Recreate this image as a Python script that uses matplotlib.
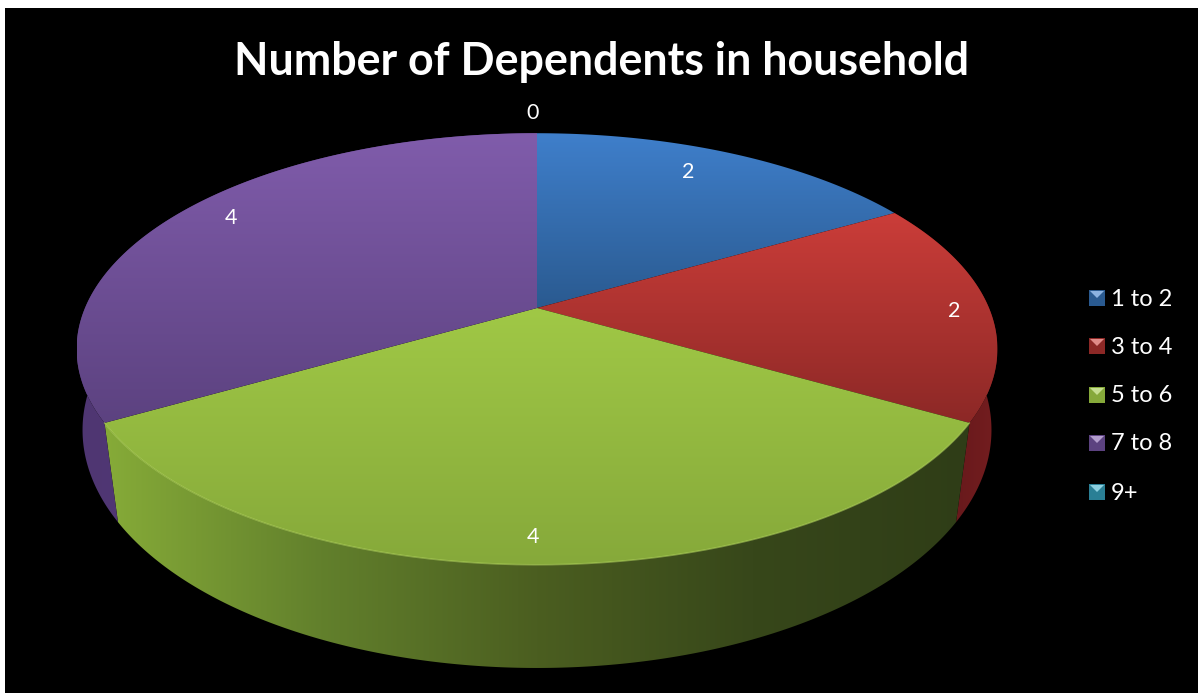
import numpy as np
import matplotlib
matplotlib.use('Agg')
from matplotlib import pyplot as plt
from matplotlib.patches import Polygon, Rectangle

categories = ['1 to 2', '3 to 4', '5 to 6', '7 to 8', '9+']
values = [2, 2, 4, 4, 0]
title = 'Number of Dependents in household'

# top face gradient (far edge, near edge) and side gradient (left to right)
top_colors = [('#3f7fcb', '#2a5a90'), ('#cb3d39', '#8c2826'),
              ('#a0c846', '#86a93a'), ('#805cab', '#5c4280'), ('#3fb0cc', '#2a7f95')]
side_colors = [('#2a5a90', '#2a5a90'), ('#561417', '#741d1f'),
               ('#86ab38', '#62802c', '#4b5e20', '#37471a', '#2f3d17'),
               ('#4f3672', '#5c3f85'), ('#2a7f95', '#2a7f95')]
legend_y = [298, 346, 395, 443, 492]
label_xy = [(688, 172), (954, 311), (533, 537), (231, 218)]
zero_label_xy = (533, 113)

plt.rcParams['font.family'] = ['Lato', 'DejaVu Sans']

fig = plt.figure(figsize=(11.98, 6.93), dpi=100, facecolor='white')
ax = fig.add_axes([0, 0, 1, 1])
ax.set_xlim(0, 1198)
ax.set_ylim(693, 0)
ax.axis('off')
ax.add_patch(Rectangle((5, 8), 1193, 685, fc='black', ec='none', zorder=0))


def top_disc(a):
    # a is the angle in radians clockwise from 12 o'clock, with perspective
    u, v = np.sin(a), np.cos(a)
    w = 1 + 0.19 * v
    return 537 + 452 * u / w, 308 - 208 * v / w


def bottom_disc(a):
    u, v = np.sin(a), np.cos(a)
    w = 1 + 0.14 * v
    return 537 + 450 * u / w, 396.7 - 233.3 * v / w


def hex_rgb(c):
    return np.array(matplotlib.colors.to_rgb(c))


def fill_gradient(poly, stops, vertical, zorder):
    # paint a colour ramp across the bounding box, clipped to the polygon
    patch = Polygon(poly, closed=True, fc='none', ec='none', zorder=zorder)
    ax.add_patch(patch)
    pos = np.linspace(0, 1, 256)
    knots = np.linspace(0, 1, len(stops))
    rgb = np.column_stack([np.interp(pos, knots, [hex_rgb(s)[j] for s in stops]) for j in range(3)])
    img = rgb[:, None, :] if vertical else rgb[None, :, :]
    x0, y0 = poly.min(axis=0)
    x1, y1 = poly.max(axis=0)
    im = ax.imshow(img, extent=(x0, x1, y1, y0), aspect='auto', zorder=zorder,
                   interpolation='bilinear')
    im.set_clip_path(patch)


total = sum(values)
edges = np.cumsum([0] + values) / total * 2 * np.pi

# sides first, back to front, so the green wall sits over its neighbours
for i in [3, 1, 2]:
    a = np.linspace(edges[i], edges[i + 1], 200)
    tx, ty = top_disc(a)
    bx, by = bottom_disc(a)
    wall = np.column_stack([np.r_[tx, bx[::-1]], np.r_[ty, by[::-1]]])
    fill_gradient(wall, side_colors[i], False, 2 + i * 0.1)

for i in range(4):
    a = np.linspace(edges[i], edges[i + 1], 200)
    tx, ty = top_disc(a)
    face = np.column_stack([np.r_[537, tx], np.r_[308, ty]])
    fill_gradient(face, top_colors[i], True, 3 + i * 0.1)

# bevel highlight along the near rim of the green slice
a = np.linspace(edges[2], edges[3], 200)
tx, ty = top_disc(a)
ax.plot(tx, ty, color='#b5d860', lw=1.1, alpha=0.55, zorder=4, solid_capstyle='round')

ax.text(602, 62, title, color='white', fontsize=32.2, fontweight='bold',
        ha='center', va='center', zorder=6)

shown = [v for v in values if v > 0]
for (x, y), v in zip(label_xy, shown):
    ax.text(x, y, str(v), color='white', fontsize=15.5, ha='center', va='center', zorder=6)
ax.text(zero_label_xy[0], zero_label_xy[1], str(values[4]), color='white', fontsize=15.5,
        ha='center', va='center', zorder=6)

# legend keys are small bevelled squares
for name, y, (c0, c1) in zip(categories, legend_y, top_colors):
    ax.add_patch(Rectangle((1089, y - 8), 16, 16, fc=c1, ec='none', zorder=5))
    light = hex_rgb(c0) * 0.6 + 0.4
    ax.add_patch(Polygon([(1090, y - 7), (1104, y - 7), (1097, y)], closed=True,
                         fc=light, ec='none', zorder=6))
    ax.text(1111, y + 1, name, color='white', fontsize=17, ha='left', va='center', zorder=6)

ax.set_xlim(0, 1198)
ax.set_ylim(693, 0)
fig.savefig('out.png', dpi=100, facecolor=fig.get_facecolor())
